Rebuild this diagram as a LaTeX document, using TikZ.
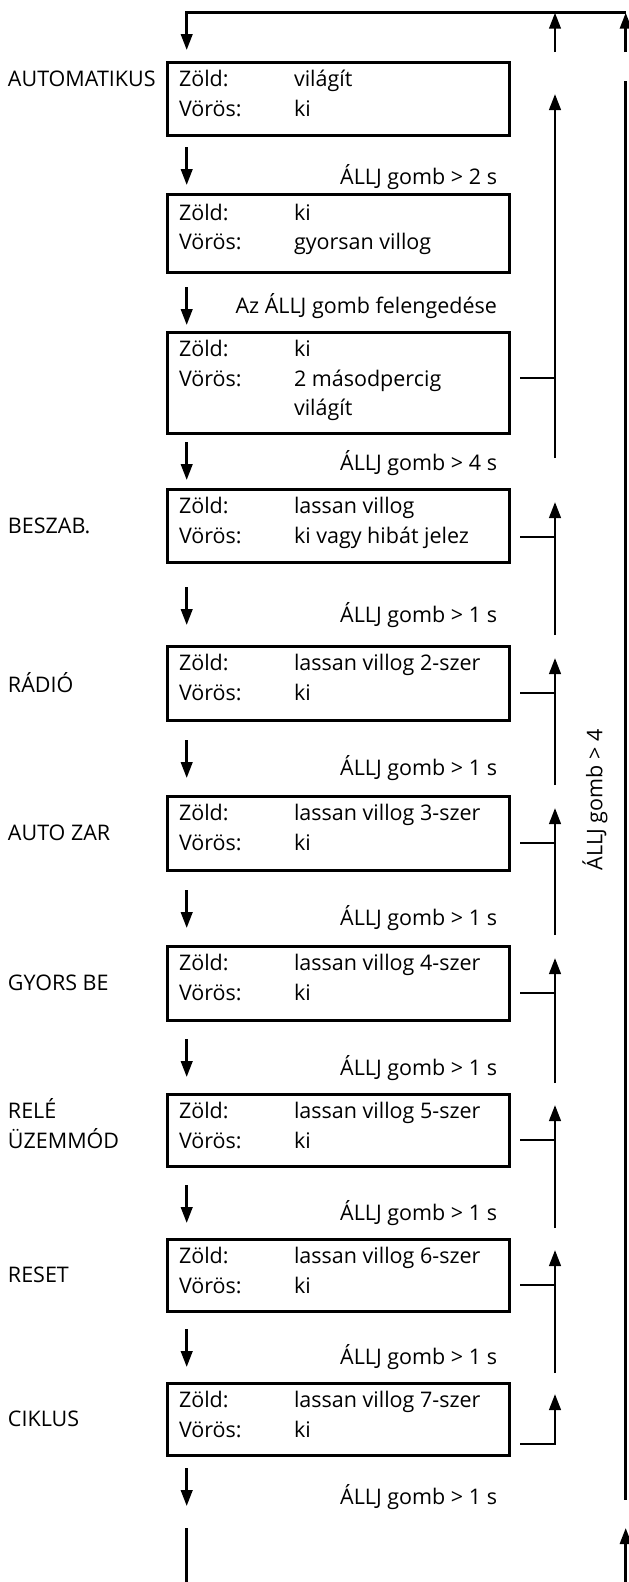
\documentclass[tikz,border=0pt]{standalone}
\usepackage{fontspec}
\setmainfont{Open Sans}
\usetikzlibrary{arrows.meta}
\newcommand\stbox[6]{% name, top, height, green, red, dy-first-row
  \node[box, minimum height=#3pt] (#1) at (167.5,#2) {};
  \node[txt] (#1zl) at (179,{#2+#6}) {Zöld:};
  \node[txt] (#1zv) at (294,{#2+#6}) {#4};
  \node[txt] (#1vl) at (179,{#2+#6+29.5}) {Vörös:};
  \node[txt] (#1vv) at (294,{#2+#6+29.5}) {#5};
}
\begin{document}
\begin{tikzpicture}[x=1pt,y=-1pt,
  every node/.style={inner sep=0pt, outer sep=0pt, font=\fontsize{21.5}{25}\selectfont},
  box/.style={draw, line width=3pt, rectangle, minimum width=341.5pt, anchor=north west},
  ln/.style={line width=2.6pt},
  arr/.style={ln, -{Triangle[length=16pt,width=11.5pt]}},
  lbl/.style={anchor=east},
  txt/.style={anchor=base west},
  side/.style={anchor=west}]
\useasboundingbox (0,0) rectangle (629,1582);

% boxes
\stbox{b1}{62}{73}{világít}{ki}{24.5}
\stbox{b2}{194}{78}{ki}{gyorsan villog}{26}
\node[box, minimum height=101pt] (b3) at (167.5,332) {};
\node[txt] (b3zl) at (179,356.5) {Zöld:};
\node[txt] (b3zv) at (294,356.5) {ki};
\node[txt] (b3vl) at (179,386) {Vörös:};
\node[txt] (b3vv) at (294,386) {2 másodpercig};
\node[txt] (b3vw) at (294,415.5) {világít};
\stbox{b4}{489}{73}{lassan villog}{ki vagy hibát jelez}{24.5}
\stbox{b5}{646}{74}{lassan villog 2-szer}{ki}{24.5}
\stbox{b6}{796}{74}{lassan villog 3-szer}{ki}{24.5}
\stbox{b7}{946}{74}{lassan villog 4-szer}{ki}{24.5}
\stbox{b8}{1094}{72}{lassan villog 5-szer}{ki}{24.5}
\stbox{b9}{1239}{72}{lassan villog 6-szer}{ki}{24.5}
\stbox{b10}{1383}{72}{lassan villog 7-szer}{ki}{24.5}

% side labels
\node[anchor=base west] (m1) at (8,86.5) {AUTOMATIKUS};
\node[side] (m4) at (8,525.5) {BESZAB.};
\node[side] (m5) at (8,683) {RÁDIÓ};
\node[side] (m6) at (8,833) {AUTO ZAR};
\node[side] (m7) at (8,983) {GYORS BE};
\node[anchor=base west] (m8a) at (8,1118.5) {RELÉ};
\node[anchor=base west] (m8b) at (8,1148) {ÜZEMMÓD};
\node[side] (m9) at (8,1275) {RESET};
\node[side] (m10) at (8,1419) {CIKLUS};

% transition labels
\node[lbl] (t1) at (497,177) {ÁLLJ gomb > 2 s};
\node[lbl] (t2) at (497,306) {Az ÁLLJ gomb felengedése};
\node[lbl] (t3) at (497,463) {ÁLLJ gomb > 4 s};
\foreach \i/\y in {4/615,5/768,6/918,7/1068,8/1213,9/1357,10/1497}
  \node[lbl] (t\i) at (497,\y) {ÁLLJ gomb > 1 s};
\node[rotate=90] (rot) at (595,800) {ÁLLJ gomb > 4};

% top loop
\coordinate (tl) at (186.7,12.7);
\coordinate (tr) at (625.7,12.7);
\coordinate (d0e) at (186.7,50);
\draw[arr] (tr) -- (tl) -- (d0e);

% down arrows
\foreach \i/\a/\b in {1/147/185,2/287/325,3/442/480,4/587/625,5/740/778,6/890/928,7/1039/1077,8/1185/1223,9/1329/1367,10/1468/1506}{
  \coordinate (d\i s) at (186.7,\a);
  \coordinate (d\i e) at (186.7,\b);
  \draw[arr] (d\i s) -- (d\i e);
}
\coordinate (dfs) at (186.7,1528);
\coordinate (dfe) at (186.7,1582);
\draw[ln] (dfs) -- (dfe);

% middle return column
\coordinate (mt0b) at (555,52);
\coordinate (mt0t) at (555,12.7);
\draw[arr] (mt0b) -- (mt0t);
\foreach \i/\b/\t in {1/458/94,2/635/502,3/785/658,4/935/808,5/1083/958,6/1228/1105,7/1373/1250}{
  \coordinate (mc\i b) at (555,\b);
  \coordinate (mc\i t) at (555,\t);
  \draw[arr] (mc\i b) -- (mc\i t);
}
\foreach \i/\y in {3/378,4/537,5/693,6/843,7/993,8/1140,9/1285}{
  \coordinate (st\i a) at (520,\y);
  \coordinate (st\i b) at (555,\y);
  \draw[ln] (st\i a) -- (st\i b);
}
\coordinate (st10a) at (520,1444);
\coordinate (st10b) at (555,1444);
\coordinate (st10t) at (555,1394);
\draw[arr] (st10a) -- (st10b) -- (st10t);

% long column
\coordinate (lt0b) at (625.7,52);
\coordinate (lt0t) at (625.7,12.7);
\draw[arr] (lt0b) -- (lt0t);
\coordinate (lla) at (625.7,81);
\coordinate (llb) at (625.7,1500);
\draw[ln] (lla) -- (llb);
\coordinate (lbb) at (625.7,1582);
\coordinate (lbt) at (625.7,1528);
\draw[arr] (lbb) -- (lbt);
\end{tikzpicture}
\end{document}
